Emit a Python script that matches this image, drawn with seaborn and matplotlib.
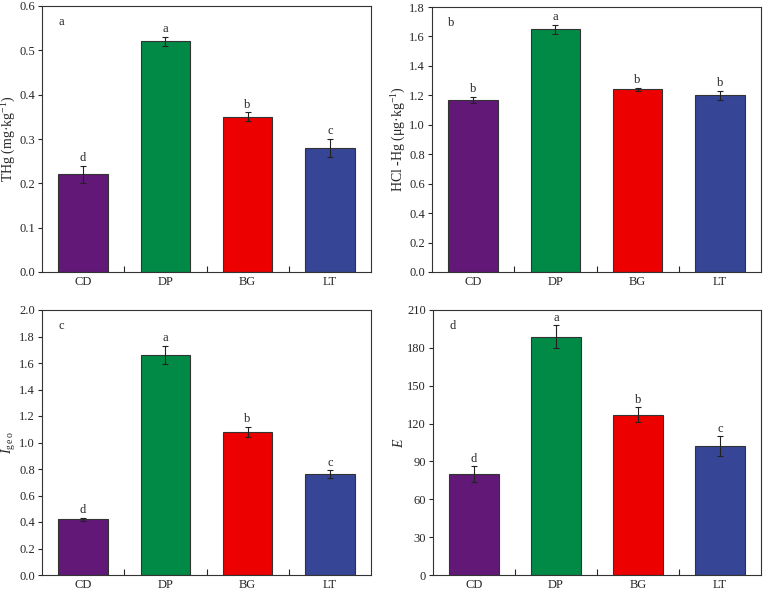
import numpy as np
import pandas as pd
import matplotlib.pyplot as plt
import seaborn as sns
from matplotlib.ticker import FixedLocator

# data
sites = ["CD", "DP", "BG", "LT"]
colors = ["#611877", "#008a46", "#ec0000", "#374596"]

thg = [0.22, 0.52, 0.35, 0.28]
thg_err = [0.02, 0.01, 0.01, 0.02]
thg_sig = ["d", "a", "b", "c"]

hcl = [1.17, 1.65, 1.24, 1.20]
hcl_err = [0.02, 0.03, 0.01, 0.03]
hcl_sig = ["b", "a", "b", "b"]

igeo = [0.42, 1.66, 1.08, 0.76]
igeo_err = [0.01, 0.07, 0.04, 0.03]
igeo_sig = ["d", "a", "b", "c"]

eri = [80, 189, 127, 102]
eri_err = [6, 9, 6, 8]
eri_sig = ["d", "a", "b", "c"]

sns.set_style("white")
plt.rcParams['font.family'] = ['Liberation Serif', 'DejaVu Serif']
plt.rcParams['mathtext.fontset'] = 'custom'
plt.rcParams['mathtext.rm'] = 'Liberation Serif'
plt.rcParams['mathtext.it'] = 'Liberation Serif:italic'

fig = plt.figure(figsize=(7.67, 5.93), dpi=100)
W, H = 767, 593
# axes boxes in pixels (left, top, right, bottom)
boxes = [(42, 6, 371, 272), (432, 7, 761, 272), (42, 310, 371, 575), (433, 310, 761, 575)]

panels = [
    (thg, thg_err, thg_sig, "a", "THg (mg·kg$^{-1}$)", 0.6, 0.1, "{:.1f}"),
    (hcl, hcl_err, hcl_sig, "b", "HCl -Hg (μg·kg$^{-1}$)", 1.8, 0.2, "{:.1f}"),
    (igeo, igeo_err, igeo_sig, "c", "$I_{\\rm g\\,e\\,o}$", 2.0, 0.2, "{:.1f}"),
    (eri, eri_err, eri_sig, "d", "$E$", 210, 30, "{:.0f}"),
]

for (x0, y0, x1, y1), (vals, errs, sig, tag, ylab, ymax, step, fmt) in zip(boxes, panels):
    ax = fig.add_axes([x0 / W, 1 - y1 / H, (x1 - x0) / W, (y1 - y0) / H])
    df = pd.DataFrame({"site": sites, "value": vals})
    sns.barplot(data=df, x="site", y="value", hue="site", palette=colors, legend=False,
                saturation=1, width=0.6, edgecolor="#333333", linewidth=0.8,
                errorbar=None, ax=ax)
    pos = np.arange(len(sites))
    ax.errorbar(pos, vals, yerr=errs, fmt="none", ecolor="#222222", elinewidth=0.8,
                capsize=2.5, capthick=0.8)
    for p, v, e, s in zip(pos, vals, errs, sig):
        ax.text(p, v + e + ymax * 0.006, s, ha="center", va="bottom", fontsize=9)
    ax.text(0.05, 0.94, tag, transform=ax.transAxes, ha="left", va="center", fontsize=9)

    ax.set_xlim(-0.5, 3.5)
    ax.set_ylim(0, ymax)
    ticks = np.arange(0, ymax + step / 2, step)
    ax.set_yticks(ticks)
    ax.set_yticklabels([fmt.format(t) for t in ticks])
    ax.set_xlabel("")
    ax.set_ylabel(ylab, fontsize=10, labelpad=1)
    ax.xaxis.set_minor_locator(FixedLocator([0.5, 1.5, 2.5]))
    ax.tick_params(axis="x", which="major", length=0, labelsize=9, pad=3)
    ax.tick_params(axis="x", which="minor", direction="in", length=4, width=0.8, bottom=True)
    ax.tick_params(axis="y", which="major", direction="out", length=3, width=0.8,
                   labelsize=9, left=True, pad=2)
    for sp in ax.spines.values():
        sp.set_color("#333333")
        sp.set_linewidth(0.8)

fig.savefig("out.png", dpi=100)
